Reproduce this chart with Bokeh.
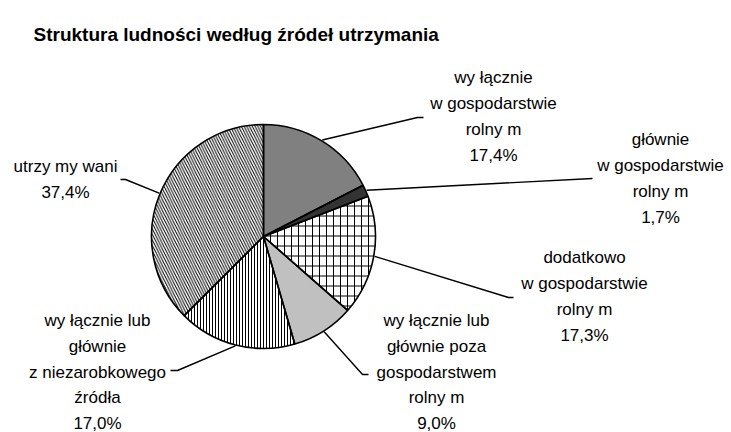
import math
from bokeh.plotting import figure
from bokeh.models import Range1d, ColumnDataSource
from bokeh.core.properties import value
from bokeh.embed import file_html
from bokeh.resources import INLINE

title_text = "Struktura ludności według źródeł utrzymania"
values = [17.4, 1.7, 17.3, 9.0, 17.0, 37.4]
label_lines = [
    ["wy łącznie", "w gospodarstwie", "rolny m"],
    ["głównie", "w gospodarstwie", "rolny m"],
    ["dodatkowo", "w gospodarstwie", "rolny m"],
    ["wy łącznie lub", "głównie poza", "gospodarstwem", "rolny m"],
    ["wy łącznie lub", "głównie", "z niezarobkowego", "źródła"],
    ["utrzy my wani"],
]
fill_colors = ["#808080", "#333333", "#ffffff", "#c0c0c0", "#ffffff", "#ffffff"]
hatches = [" ", " ", "|", " ", "|", "\\"]
hatch_scales = [8, 8, 7, 8, 3, 5.5]
# second hatch layer (horizontal lines of the grid slice)
hatches2 = [" ", " ", "-", " ", " ", " "]
hatch_scales2 = [8, 8, 10, 8, 8, 8]

# layout (page pixel coordinates)
W, H = 731, 432
cx, cy, R = 263, 236, 112
label_pos = [(493, 77), (660, 139), (584, 257), (436, 320), (97, 320), (65, 166)]
line_gaps = [26, 26, 26, 25.75, 25.75, 26]
leader_ends = [
    [(417, 117), (423, 117)],
    [(592, 178)],
    [(508, 297), (513, 297)],
    [(362, 374), (368, 374)],
    [(177, 370), (170, 370)],
    [(125, 179), (120, 179)],
]


def Y(py):
    return H - py


p = figure(width=W, height=H, output_backend="svg", toolbar_location=None,
           x_range=Range1d(0, W), y_range=Range1d(0, H),
           min_border=0, outline_line_color=None)
p.xaxis.visible = False
p.yaxis.visible = False
p.grid.visible = False

total = sum(values)
starts, ends, mids = [], [], []
acc = 0.0
for v in values:
    a0 = math.pi / 2 - 2 * math.pi * acc / total
    a1 = math.pi / 2 - 2 * math.pi * (acc + v) / total
    starts.append(a0)
    ends.append(a1)
    mids.append((a0 + a1) / 2)
    acc += v

src = ColumnDataSource(dict(
    x=[cx] * len(values), y=[Y(cy)] * len(values),
    start=starts, end=ends, fill=fill_colors,
    hatch=hatches, hs=hatch_scales, hatch2=hatches2, hs2=hatch_scales2,
))
p.wedge(x="x", y="y", radius=R, start_angle="end", end_angle="start",
        direction="anticlock", source=src,
        fill_color="fill", line_color=None,
        hatch_pattern="hatch", hatch_scale="hs", hatch_color="black",
        hatch_weight=1)
p.wedge(x="x", y="y", radius=R, start_angle="end", end_angle="start",
        direction="anticlock", source=src,
        fill_alpha=0, line_color="black", line_width=1.6,
        hatch_pattern="hatch2", hatch_scale="hs2", hatch_color="black",
        hatch_weight=1)

# leader lines
xs, ys = [], []
for m, pts in zip(mids, leader_ends):
    sx = cx + (R + 1) * math.cos(m)
    sy = cy - (R + 1) * math.sin(m)
    xs.append([sx] + [q[0] for q in pts])
    ys.append([Y(sy)] + [Y(q[1]) for q in pts])
p.multi_line(xs=xs, ys=ys, line_color="black", line_width=1.4)

# labels
tx, ty, tt = [], [], []
for v, lines, (lx, ly), g in zip(values, label_lines, label_pos, line_gaps):
    pct = f"{v:.1f}".replace(".", ",") + "%"
    for i, t in enumerate(lines + [pct]):
        tx.append(lx)
        ty.append(Y(ly + i * g))
        tt.append(t)
p.text(x=tx, y=ty, text=tt, text_align="center", text_baseline="middle",
       text_font=value("Liberation Sans"), text_font_size="17px",
       text_color="black")

p.text(x=[33], y=[Y(34)], text=[title_text], text_align="left",
       text_baseline="middle", text_font=value("Liberation Sans"),
       text_font_size="19px", text_font_style="bold", text_color="black")

open("out.html", "w").write(file_html(p, INLINE))
